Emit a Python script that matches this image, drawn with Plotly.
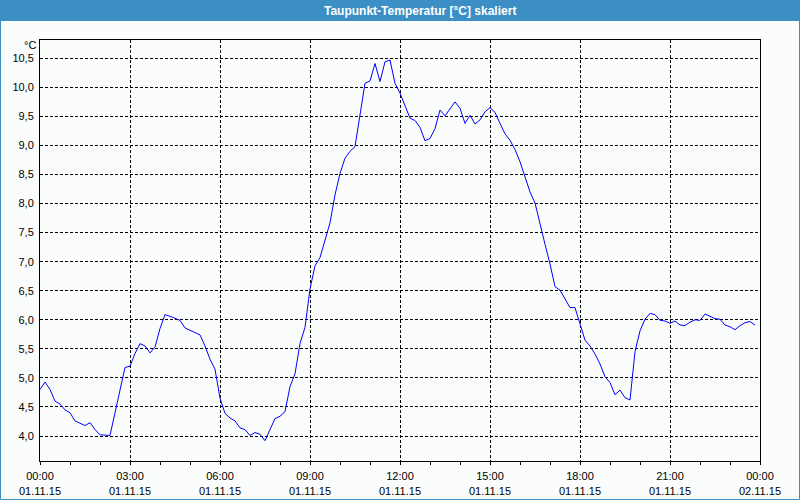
import pandas as pd
import plotly.graph_objects as go

# --- data (dew point, 10-minute samples starting 01.11.15 00:00) ---
dewpoint = [
    4.80, 4.93, 4.80, 4.60, 4.55, 4.45, 4.40, 4.26, 4.22, 4.18, 4.23, 4.11,
    4.02, 4.01, 4.01, 4.40, 4.80, 5.18, 5.20, 5.42, 5.59, 5.55, 5.43, 5.53,
    5.85, 6.09, 6.06, 6.03, 5.99, 5.86, 5.82, 5.78, 5.74, 5.55, 5.32, 5.15,
    4.65, 4.39, 4.31, 4.26, 4.14, 4.11, 4.01, 4.06, 4.03, 3.92, 4.10, 4.30,
    4.34, 4.42, 4.85, 5.07, 5.59, 5.87, 6.53, 6.93, 7.07, 7.36, 7.67, 8.15,
    8.52, 8.78, 8.90, 8.98, 9.49, 10.07, 10.11, 10.41, 10.10, 10.44, 10.47, 10.07,
    9.90, 9.67, 9.47, 9.43, 9.31, 9.08, 9.12, 9.29, 9.61, 9.51, 9.62, 9.75,
    9.64, 9.38, 9.52, 9.37, 9.44, 9.58, 9.65, 9.57, 9.38, 9.20, 9.09, 8.93,
    8.72, 8.46, 8.20, 8.01, 7.68, 7.30, 6.96, 6.57, 6.51, 6.36, 6.21, 6.21,
    5.93, 5.65, 5.55, 5.41, 5.24, 5.02, 4.92, 4.71, 4.79, 4.66, 4.62, 5.45,
    5.81, 6.01, 6.11, 6.09, 5.99, 5.98, 5.94, 5.98, 5.91, 5.90, 5.96, 6.00,
    5.99, 6.10, 6.06, 6.02, 6.01, 5.91, 5.88, 5.83, 5.90, 5.95, 5.97, 5.91,
]
times = pd.date_range("2015-11-01 00:00", periods=len(dewpoint), freq="10min")

x_tick_vals = ["2015-11-01 00:00", "2015-11-01 03:00", "2015-11-01 06:00",
               "2015-11-01 09:00", "2015-11-01 12:00", "2015-11-01 15:00",
               "2015-11-01 18:00", "2015-11-01 21:00", "2015-11-02 00:00"]
x_tick_text = ["00:00<br>01.11.15", "03:00<br>01.11.15", "06:00<br>01.11.15",
               "09:00<br>01.11.15", "12:00<br>01.11.15", "15:00<br>01.11.15",
               "18:00<br>01.11.15", "21:00<br>01.11.15", "00:00<br>02.11.15"]
y_tick_vals = [4.0, 4.5, 5.0, 5.5, 6.0, 6.5, 7.0, 7.5, 8.0, 8.5, 9.0, 9.5, 10.0, 10.5]
y_tick_text = ["4,0", "4,5", "5,0", "5,5", "6,0", "6,5", "7,0", "7,5",
               "8,0", "8,5", "9,0", "9,5", "10,0", "10,5"]
title_text = "Taupunkt-Temperatur [°C] skaliert"
unit_text = "°C"

# --- layout geometry (pixels) ---
W, H = 800, 500
L, R, T, B = 40, 40, 40, 39
PW, PH = W - L - R, H - T - B


def px(xp):
    return (xp - L) / PW


def py(yp):
    return (H - B - yp) / PH


FONT = "Liberation Sans"
BLUE_BAR = "#3C8FC4"
BG = "#FAFDFB"

fig = go.Figure()
fig.add_trace(go.Scatter(x=times, y=dewpoint, mode="lines",
                         line=dict(color="#0000FF", width=1),
                         showlegend=False, hoverinfo="skip"))

axis_common = dict(showline=True, linecolor="black", linewidth=1, mirror=True,
                   showgrid=True, gridcolor="black", gridwidth=1, griddash="3px,2px",
                   zeroline=False, automargin=False,
                   tickfont=dict(family=FONT, size=11, color="black"))

fig.update_layout(
    width=W, height=H,
    margin=dict(l=L, r=R, t=T, b=B, pad=0),
    paper_bgcolor=BG, plot_bgcolor=BG,
    xaxis=dict(type="date", range=["2015-11-01 00:00", "2015-11-02 00:00"],
               tickmode="array", tickvals=x_tick_vals, ticktext=x_tick_text,
               ticks="outside", ticklen=3, tickcolor="black", ticklabelstandoff=2,
               minor=dict(dtick=3600000, ticks="outside", ticklen=3, tickcolor="black",
                          showgrid=False),
               **axis_common),
    yaxis=dict(range=[3.57, 10.815], tickmode="array", tickvals=y_tick_vals,
               ticktext=y_tick_text, ticks="", ticklabelstandoff=3,
               **axis_common),
    shapes=[
        dict(type="rect", xref="paper", yref="paper",
             x0=px(0), x1=px(W), y0=py(0), y1=py(21),
             fillcolor=BLUE_BAR, line=dict(width=0), layer="below"),
        dict(type="rect", xref="paper", yref="paper",
             x0=px(0.5), x1=px(W - 0.5), y0=py(0.5), y1=py(H - 0.5),
             fillcolor="rgba(0,0,0,0)", line=dict(color=BLUE_BAR, width=1)),
    ],
    annotations=[
        dict(text="<b>" + title_text + "</b>", xref="paper", yref="paper",
             x=px(420), y=py(11), xanchor="center", yanchor="middle",
             showarrow=False, font=dict(family=FONT, size=12, color="white")),
        dict(text=unit_text, xref="paper", yref="paper",
             x=px(38), y=py(45), xanchor="right", yanchor="middle",
             showarrow=False, font=dict(family=FONT, size=11, color="black")),
    ],
)

fig.write_html("out.html")
